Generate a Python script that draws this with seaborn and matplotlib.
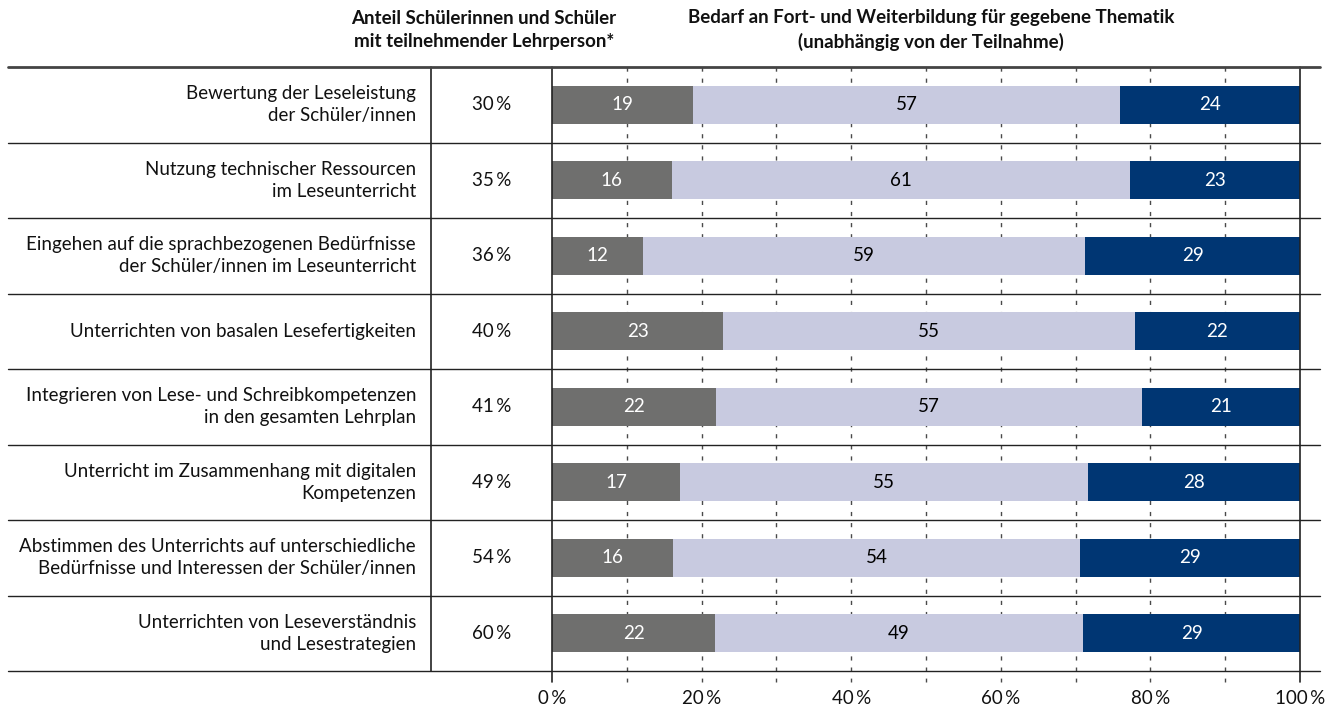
import matplotlib
matplotlib.use("Agg")
import matplotlib.pyplot as plt
import seaborn as sns
import numpy as np
import pandas as pd

# Topics (row labels)
topics = [
    "Bewertung der Leseleistung\nder Schüler/innen",
    "Nutzung technischer Ressourcen\nim Leseunterricht",
    "Eingehen auf die sprachbezogenen Bedürfnisse\nder Schüler/innen im Leseunterricht",
    "Unterrichten von basalen Lesefertigkeiten",
    "Integrieren von Lese- und Schreibkompetenzen\nin den gesamten Lehrplan",
    "Unterricht im Zusammenhang mit digitalen\nKompetenzen",
    "Abstimmen des Unterrichts auf unterschiedliche\nBedürfnisse und Interessen der Schüler/innen",
    "Unterrichten von Leseverständnis\nund Lesestrategien",
]
# Share of students with a participating teacher (%)
share_participating = [30, 35, 36, 40, 41, 49, 54, 60]
# Need for further training (% of teachers), three response groups
seg_low = [18.9, 16.0, 12.2, 22.9, 21.9, 17.1, 16.2, 21.8]
seg_mid = [57.0, 61.3, 59.1, 55.0, 57.0, 54.6, 54.4, 49.2]
seg_high = [24.1, 22.7, 28.7, 22.1, 21.1, 28.3, 29.4, 29.0]
x_ticks = [0, 20, 40, 60, 80, 100]
x_ticklabels = [f"{t}\u2009%" for t in x_ticks]

header_left = "Anteil Schülerinnen und Schüler\nmit teilnehmender Lehrperson*"
header_right = "Bedarf an Fort- und Weiterbildung für gegebene Thematik\n(unabhängig von der Teilnahme)"

col_low = "#6f6f6e"
col_mid = "#c8cae0"
col_high = "#003673"

sns.set_theme(style="white")
plt.rcParams["font.family"] = ["Lato", "DejaVu Sans"]

W, H = 1333, 708
fig = plt.figure(figsize=(W / 100, H / 100), dpi=100)
ax_l, ax_r, ax_t, ax_b = 552, 1300, 67, 671
ax = fig.add_axes([ax_l / W, 1 - ax_b / H, (ax_r - ax_l) / W, (ax_b - ax_t) / H])

df = pd.DataFrame({
    "topic": topics,
    "low": seg_low,
    "mid": seg_mid,
    "high": seg_high,
})
df["cum_mid"] = df["low"] + df["mid"]
df["cum_high"] = df["cum_mid"] + df["high"]

# Layered cumulative bars give the stacked look
for col, color in [("cum_high", col_high), ("cum_mid", col_mid), ("low", col_low)]:
    sns.barplot(data=df, x=col, y="topic", color=color, width=0.5,
                saturation=1, ax=ax, zorder=3, edgecolor="none", linewidth=0)

n = len(topics)
ax.set_xlim(0, 100)
ax.set_ylim(n - 0.5, -0.5)
ax.set_xlabel("")
ax.set_ylabel("")
ax.set_yticks([])
for s in ax.spines.values():
    s.set_visible(False)

px_per_unit_x = (ax_r - ax_l) / 100
px_per_unit_y = (ax_b - ax_t) / n


def xd(px):
    return (px - ax_l) / px_per_unit_x


tick_ext = 11 / px_per_unit_y

# dashed gridlines (extended below the table as ticks)
for g in range(10, 100, 10):
    ax.plot([g, g], [-0.5, n - 0.5 + tick_ext], color="#4a4a4a", lw=1.0,
            ls=(0, (3, 5)), clip_on=False, zorder=1)
# solid verticals at 0 and 100
for g in (0, 100):
    ax.plot([g, g], [-0.5, n - 0.5 + tick_ext], color="#222222", lw=1.2,
            clip_on=False, zorder=4)
# table divider between labels and share column
ax.plot([xd(431), xd(431)], [-0.5, n - 0.5], color="#222222", lw=1.2,
        clip_on=False, zorder=4)

# row separators
x0, x1 = xd(8), xd(1320)
ax.plot([x0, x1], [-0.5, -0.5], color="#444444", lw=2.0, clip_on=False, zorder=4)
for i in range(1, n + 1):
    ax.plot([x0, x1], [i - 0.5, i - 0.5], color="#222222", lw=1.0,
            clip_on=False, zorder=4)

fs = 13.5
# segment value labels
for i in range(n):
    lo, mi, hi = seg_low[i], seg_mid[i], seg_high[i]
    ax.text(lo / 2, i, f"{round(lo)}", ha="center", va="center", color="white",
            fontsize=fs, zorder=5)
    ax.text(lo + mi / 2, i, f"{round(mi)}", ha="center", va="center", color="black",
            fontsize=fs, zorder=5)
    ax.text(lo + mi + hi / 2, i, f"{round(hi)}", ha="center", va="center",
            color="white", fontsize=fs, zorder=5)
    # share column
    ax.text(xd(491.5), i, f"{share_participating[i]}\u2009%", ha="center",
            va="center", color="#111111", fontsize=fs, clip_on=False)
    # topic label
    ax.text(xd(416), i, topics[i], ha="right", va="center", color="#111111",
            fontsize=fs, linespacing=1.36, clip_on=False)

# x tick labels
ax.set_xticks(x_ticks)
ax.set_xticklabels(x_ticklabels, fontsize=fs, color="#111111")
ax.tick_params(axis="x", length=0, pad=14)

# headers
fig.text(484 / W, 1 - 30 / H, header_left, ha="center", va="center",
         fontsize=13.5, fontweight="bold", linespacing=1.4, color="#111111")
fig.text(931 / W, 1 - 30 / H, header_right, ha="center", va="center",
         fontsize=13.5, fontweight="bold", linespacing=1.4, color="#111111")

fig.savefig("out.png", dpi=100, facecolor="white")
